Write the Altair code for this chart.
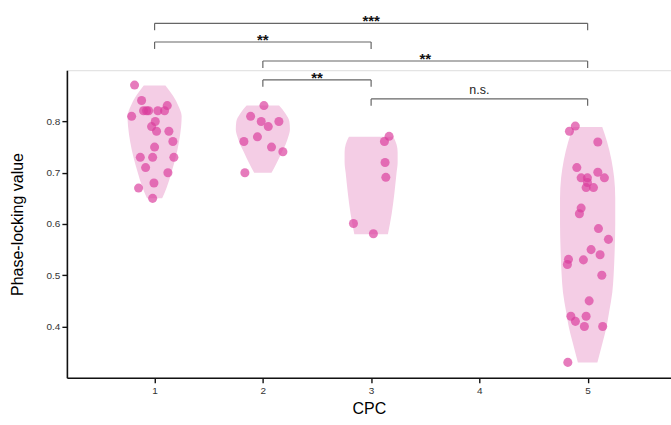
import altair as alt
import pandas as pd

# ---------------- data ----------------
groups = [1, 2, 3, 5]

# jittered scatter points: (x position incl. jitter, value)
g1_x = [0.815, 0.88, 0.898, 0.926, 0.945, 1.03, 1.092, 1.117, 0.788, 1.006, 0.972, 1.018,
        1.132, 1.169, 1.0, 0.868, 0.982, 1.178, 0.917, 1.123, 0.994, 0.852, 0.982]
g1_y = [0.871, 0.841, 0.821, 0.821, 0.821, 0.821, 0.821, 0.831, 0.810, 0.800, 0.790, 0.781,
        0.781, 0.761, 0.750, 0.730, 0.730, 0.730, 0.710, 0.700, 0.680, 0.670, 0.650]

g2_x = [2.01, 1.887, 1.985, 2.148, 2.05, 1.95, 1.825, 2.08, 2.185, 1.834]
g2_y = [0.831, 0.810, 0.800, 0.800, 0.790, 0.770, 0.761, 0.750, 0.741, 0.700]

g3_x = [3.166, 3.123, 3.129, 3.136, 2.837, 3.021]
g3_y = [0.771, 0.761, 0.720, 0.691, 0.601, 0.581]

g5_x = [4.886, 4.832, 5.094, 4.90, 5.094, 5.155, 4.94, 4.998, 4.998, 4.986, 5.054, 4.94,
        4.924, 5.10, 5.192, 5.032, 5.115, 4.823, 4.961, 4.813, 5.131, 5.014, 4.845, 4.986,
        4.887, 4.97, 5.139, 4.817]
g5_y = [0.791, 0.781, 0.760, 0.710, 0.701, 0.690, 0.690, 0.690, 0.681, 0.671, 0.671, 0.631,
        0.620, 0.591, 0.570, 0.550, 0.540, 0.531, 0.530, 0.521, 0.500, 0.450, 0.420, 0.420,
        0.410, 0.400, 0.400, 0.330]

# violin outlines: value levels and half widths (in CPC units)
v1_y = [0.65, 0.67, 0.70, 0.73, 0.76, 0.79, 0.81, 0.83, 0.85, 0.87]
v1_w = [0.07, 0.11, 0.155, 0.195, 0.225, 0.245, 0.25, 0.22, 0.17, 0.10]

v2_y = [0.70, 0.72, 0.74, 0.755, 0.77, 0.785, 0.80, 0.815, 0.831]
v2_w = [0.08, 0.13, 0.175, 0.21, 0.235, 0.25, 0.245, 0.21, 0.15]

v3_y = [0.58, 0.62, 0.66, 0.70, 0.72, 0.74, 0.755, 0.77]
v3_w = [0.155, 0.19, 0.215, 0.235, 0.245, 0.245, 0.235, 0.205]

v5_y = [0.33, 0.37, 0.40, 0.43, 0.467, 0.50, 0.55, 0.60, 0.65, 0.69, 0.725, 0.76, 0.789]
v5_w = [0.09, 0.14, 0.175, 0.20, 0.228, 0.24, 0.25, 0.255, 0.255, 0.245, 0.22, 0.18, 0.135]

# significance brackets
br_x1 = [1, 1, 2, 2, 3]
br_x2 = [5, 3, 5, 3, 5]
br_y = [0.9915, 0.955, 0.918, 0.881, 0.844]
br_label = ["***", "**", "**", "**", "n.s."]
leg = 0.0135

y_ticks = [0.4, 0.5, 0.6, 0.7, 0.8]
x_ticks = [1, 2, 3, 4, 5]

# ---------------- tables ----------------
pts = pd.DataFrame({
    "x": g1_x + g2_x + g3_x + g5_x,
    "y": g1_y + g2_y + g3_y + g5_y,
})

vrows = []
for c, ys, ws in [(1, v1_y, v1_w), (2, v2_y, v2_w), (3, v3_y, v3_w), (5, v5_y, v5_w)]:
    for yy, ww in zip(ys, ws):
        vrows.append({"g": c, "y": yy, "lo": c - ww, "hi": c + ww})
vio = pd.DataFrame(vrows)

segs = []
for a, b, yy in zip(br_x1, br_x2, br_y):
    segs.append({"x": a, "x2": b, "y": yy, "y2": yy})
    segs.append({"x": a, "x2": a, "y": yy, "y2": yy - leg})
    segs.append({"x": b, "x2": b, "y": yy, "y2": yy - leg})
seg = pd.DataFrame(segs)
lab = pd.DataFrame({"x": [(a + b) / 2 for a, b in zip(br_x1, br_x2)], "y": br_y, "t": br_label})
lab_star = lab[lab["t"] != "n.s."]
lab_ns = lab[lab["t"] == "n.s."]

xs = alt.Scale(domain=[0.19, 5.77], nice=False, zero=False)
ys_ = alt.Scale(domain=[0.3, 0.9], nice=False, zero=False)

xaxis = alt.Axis(values=x_ticks, format="d", title="CPC", grid=False, tickSize=5,
                 labelFontSize=10, labelColor="#333", labelPadding=3,
                 titleFontSize=16, titleFontWeight="normal", titlePadding=5,
                 domainColor="#111", domainWidth=1.6, tickColor="#111", tickWidth=1.4)
yaxis = alt.Axis(values=y_ticks, format=".1f", title="Phase-locking value", grid=False,
                 tickSize=5, labelFontSize=10, labelColor="#333", labelPadding=2,
                 titleFontSize=16, titleFontWeight="normal", titlePadding=21,
                 domainColor="#111", domainWidth=1.6, tickColor="#111", tickWidth=1.4)

violins = alt.Chart(vio).mark_area(orient="horizontal", color="#F4CDE5", opacity=1,
                                   interpolate="monotone").encode(
    y=alt.Y("y:Q", scale=ys_, axis=yaxis),
    x=alt.X("lo:Q", scale=xs, axis=xaxis, stack=None),
    x2="hi:Q",
    detail="g:N",
)

dots = alt.Chart(pts).mark_circle(size=82, color="#DA3C9C", opacity=0.68).encode(
    x=alt.X("x:Q", scale=xs),
    y=alt.Y("y:Q", scale=ys_),
)

rules = alt.Chart(seg).mark_rule(color="#666", strokeWidth=1.2).encode(
    x=alt.X("x:Q", scale=xs), x2="x2:Q",
    y=alt.Y("y:Q", scale=ys_), y2="y2:Q",
)

stars = alt.Chart(lab_star).mark_text(fontSize=15, fontWeight="bold", color="#111",
                                      baseline="alphabetic", dy=3).encode(
    x=alt.X("x:Q", scale=xs),
    y=alt.Y("y:Q", scale=ys_),
    text="t:N",
)

ns = alt.Chart(lab_ns).mark_text(fontSize=12.5, color="#222",
                                 baseline="alphabetic", dy=-5).encode(
    x=alt.X("x:Q", scale=xs),
    y=alt.Y("y:Q", scale=ys_),
    text="t:N",
)

chart = alt.layer(violins, dots, rules, stars, ns).properties(
    width=605, height=308,
    autosize=alt.AutoSizeParams(type="none"),
    padding={"left": 67, "top": 70, "right": 0, "bottom": 47},
).configure_view(stroke=None).configure(font="Liberation Sans")

chart.save("out.html", embed_options={"renderer": "svg", "actions": False})
